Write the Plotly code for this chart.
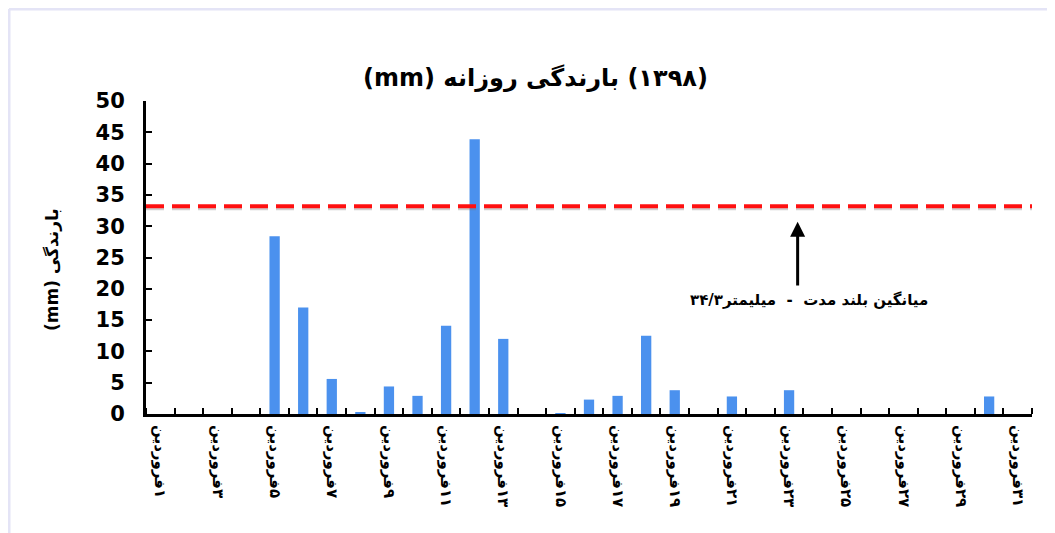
import plotly.graph_objects as go

# ---- data ----
days = list(range(1, 32))
rain_mm = [0, 0, 0, 0, 28.4, 17.0, 5.6, 0.2, 4.4, 2.9,
           14.1, 43.9, 12.0, 0, 0.1, 2.3, 2.9, 12.5, 3.8, 0,
           2.8, 0, 3.8, 0, 0, 0, 0, 0, 0, 2.8, 0]
long_term_mean = 33.2
label_days = list(range(1, 32, 2))
month_name = "فروردین"
title_text = "(۱۳۹۸) بارندگی روزانه (mm)"
y_title = "بارندگی (mm)"
mean_note = "میانگین بلند مدت  -  میلیمتر۳۴/۳"

RLE, PDF = "\u202b", "\u202c"
fa_digits = str.maketrans("0123456789", "۰۱۲۳۴۵۶۷۸۹")
tick_text = [RLE + str(d).translate(fa_digits) + month_name + PDF for d in label_days]

L, T, R, B = 138, 93, 31, 127
W, H = 1055, 533
pw, ph = W - L - R, H - T - B

fig = go.Figure()
fig.add_trace(go.Bar(x=days, y=rain_mm, width=0.36,
                     marker=dict(color="#4b91ee", line=dict(width=0)),
                     showlegend=False))
# shadow of the mean line
fig.add_trace(go.Scatter(x=[0.5, 31.6], y=[long_term_mean - 0.35] * 2, mode="lines",
                         line=dict(color="rgba(120,120,120,0.35)", width=4, dash="18px,8px"),
                         showlegend=False, cliponaxis=False))
fig.add_trace(go.Scatter(x=[0.5, 31.6], y=[long_term_mean] * 2, mode="lines",
                         line=dict(color="#ff1010", width=4, dash="18px,8px"),
                         showlegend=False, cliponaxis=False))

fig.update_layout(
    width=W, height=H,
    paper_bgcolor="white", plot_bgcolor="white",
    margin=dict(l=L, r=R, t=T, b=B, autoexpand=False),
    title=dict(text=RLE + title_text + PDF, x=0.5, xanchor="center",
               y=1 - 70 / H, yanchor="middle",
               font=dict(family="DejaVu Sans", size=24, color="black", weight="bold")),
    bargap=0.6,
)
fig.update_xaxes(
    range=[0.5, 31.5], tickmode="array", tickvals=label_days, ticktext=tick_text,
    tickangle=90, ticks="", showgrid=False, zeroline=False, automargin=False,
    showline=True, linecolor="black", linewidth=3, ticklabelstandoff=5,
    tickfont=dict(family="DejaVu Sans", size=15, color="black", weight="bold"),
    minor=dict(tickmode="linear", tick0=0.5, dtick=1, ticks="inside", ticklen=6,
               tickwidth=2, tickcolor="black", showgrid=False),
)
fig.update_yaxes(
    range=[0, 50], dtick=5, ticks="inside", ticklen=6, tickwidth=2, tickcolor="black",
    showgrid=False, zeroline=False, showline=True, linecolor="black", linewidth=3,
    automargin=False, ticklabelstandoff=14,
    tickfont=dict(family="DejaVu Sans", size=21, color="black", weight="bold"),
)

# y-axis title (placed as rotated text)
fig.add_annotation(x=(44 - L) / pw, y=1 - (262 - T) / ph, xref="paper", yref="paper",
                   text=RLE + y_title + PDF, textangle=-90, showarrow=False,
                   xanchor="center", yanchor="middle",
                   font=dict(family="DejaVu Sans", size=17, color="black", weight="bold"))

# arrow pointing to the mean line
fig.add_annotation(x=23.3, y=30.7, ax=23.3, ay=20.3, axref="x", ayref="y",
                   xref="x", yref="y", text="", showarrow=True,
                   arrowhead=2, arrowsize=1, arrowwidth=3, arrowcolor="black")
fig.add_annotation(x=23.7, y=18.2, xref="x", yref="y", text=mean_note, showarrow=False,
                   font=dict(family="DejaVu Sans", size=15, color="black", weight="bold"),
                   xanchor="center", yanchor="middle")

# faint frame of the original picture
fx = -(L - 1) / pw
fy = (ph + T - 1) / ph
fig.add_shape(type="line", xref="paper", yref="paper", x0=fx, x1=fx,
              y0=-0.5, y1=fy, line=dict(color="#e4e4f6", width=3))
fig.add_shape(type="line", xref="paper", yref="paper", x0=fx, x1=1.1,
              y0=fy, y1=fy, line=dict(color="#e4e4f6", width=3))

fig.write_html("out.html")
